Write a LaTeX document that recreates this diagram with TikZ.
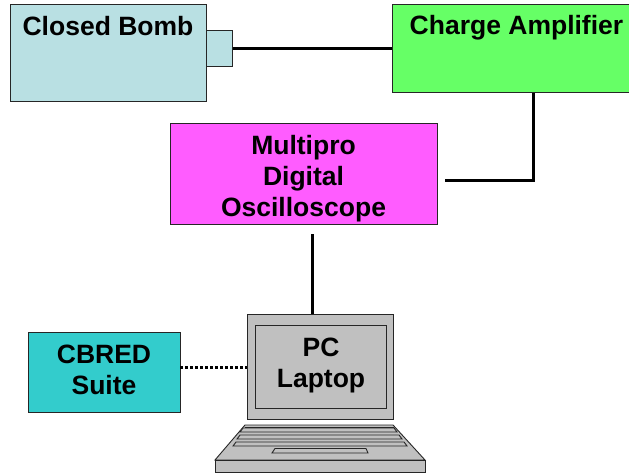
\documentclass[tikz,border=0pt]{standalone}
\usepackage{fontspec}
\setmainfont{Liberation Sans}
\tikzset{
  box/.style={draw=black!85,line width=0.9pt,inner sep=0pt,anchor=north west},
  lbl/.style={font=\fontsize{26.5}{31}\selectfont\bfseries,text=black,align=center,inner sep=0pt},
  wire/.style={draw=black,line width=3pt},
  lap/.style={draw=black!85,line width=0.9pt,fill=lapgray},
}
\definecolor{bombc}{HTML}{B9E0E3}
\definecolor{ampc}{HTML}{66FF66}
\definecolor{scopec}{HTML}{FF5CFF}
\definecolor{suitec}{HTML}{33CCCC}
\definecolor{lapgray}{HTML}{C0C0C0}
\begin{document}
\begin{tikzpicture}[x=1pt,y=-1pt]
\useasboundingbox (0,0) rectangle (629,473);
\fill[white] (0,0) rectangle (629,473);
% boxes
\node[box,fill=bombc,minimum width=195.5pt,minimum height=97pt] (bomb) at (10,4) {};
\node[box,fill=bombc,minimum width=26.5pt,minimum height=36pt] (port) at (205.5,30) {};
\node[box,fill=ampc,minimum width=240pt,minimum height=88pt] (amp) at (391.5,4) {};
\node[box,fill=scopec,minimum width=266.5pt,minimum height=101.5pt] (scope) at (170,123) {};
\node[box,fill=suitec,minimum width=151.5pt,minimum height=79.5pt] (suite) at (28,332) {};
% laptop
\draw[lap] (245,425) -- (393,425) -- (425,460) -- (215,460) -- cycle;
\draw[lap] (215,460) rectangle (425,472);
\draw[lap] (245,427) -- (394,427);
\draw[lap] (243,428) -- (394,428) -- (397,432) -- (240,432) -- cycle;
\draw[lap] (240,435) -- (399,435) -- (402,439) -- (237,439) -- cycle;
\draw[lap] (236,442) -- (404,442) -- (407,446) -- (233,446) -- cycle;
\draw[lap] (275,448.5) -- (366,448.5) -- (368,453) -- (272,453) -- cycle;
\node[box,fill=lapgray,minimum width=146pt,minimum height=105pt] (lapbody) at (247,314) {};
\node[box,fill=lapgray,minimum width=131pt,minimum height=83pt] (screen) at (255,325) {};
% labels
\node[lbl] (t1) at (108,26.5) {Closed Bomb};
\node[lbl] (t2) at (516.5,28) {Charge Amplifier};
\node[lbl] (t3) at (303.5,178.5) {Multipro\\Digital\\Oscilloscope};
\node[lbl] (t4) at (104,370) {CBRED\\Suite};
\node[lbl] (t5) at (321,365) {PC\\Laptop};
% connectors
\coordinate (ampdrop) at (amp.south -| 533.5,0);
\coordinate (corner) at (533.5,181);
\coordinate (scopeend) at (445,181);
\coordinate (scopeout) at (312,234);
\coordinate (suiteend) at (suite.east);
\draw[wire] (port.east) -- (port.east -| amp.west);
\draw[wire,line join=miter] (ampdrop) -- (corner) -- (scopeend);
\draw[wire] (scopeout) -- (scopeout |- lapbody.north);
\draw[draw=black,line width=3pt,dash pattern=on 3pt off 2pt] (suiteend |- 0,367) -- (lapbody.west |- 0,367);
\end{tikzpicture}
\end{document}
